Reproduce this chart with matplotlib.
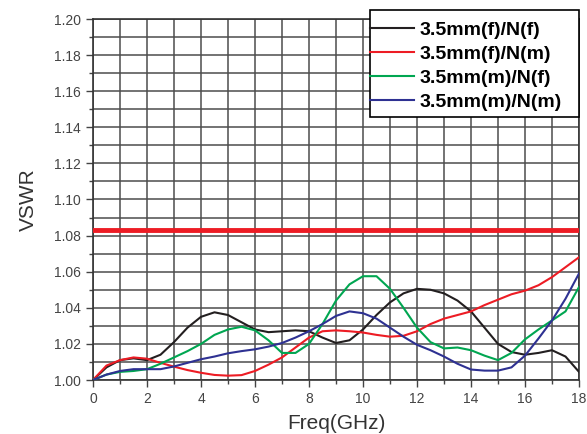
import numpy as np
import matplotlib
matplotlib.use("Agg")
import matplotlib.pyplot as plt
from matplotlib.ticker import MultipleLocator
from matplotlib.patches import Rectangle

# frequency points (GHz)
freq = np.arange(0, 18.01, 0.5)

# VSWR
ff = [1.000, 1.007, 1.011, 1.012, 1.011, 1.014, 1.021, 1.029, 1.035, 1.0375,
      1.036, 1.032, 1.028, 1.0265, 1.027, 1.0275, 1.027, 1.0235, 1.0205, 1.022,
      1.028, 1.036, 1.043, 1.048, 1.0505, 1.050, 1.048, 1.044, 1.038, 1.029,
      1.020, 1.0155, 1.014, 1.015, 1.0165, 1.013, 1.0045]
fm = [1.000, 1.008, 1.011, 1.0125, 1.0118, 1.0095, 1.0074, 1.0055, 1.004, 1.0028,
      1.0024, 1.0027, 1.005, 1.0085, 1.0125, 1.018, 1.0235, 1.027, 1.0275, 1.027,
      1.0263, 1.025, 1.024, 1.0245, 1.027, 1.031, 1.034, 1.036, 1.038, 1.0415,
      1.0445, 1.0475, 1.0495, 1.0525, 1.057, 1.0625, 1.068]
mf = [1.000, 1.003, 1.0045, 1.005, 1.006, 1.009, 1.0125, 1.016, 1.020, 1.025,
      1.028, 1.0295, 1.0275, 1.022, 1.015, 1.015, 1.020, 1.031, 1.044, 1.053,
      1.0575, 1.0575, 1.0505, 1.040, 1.029, 1.021, 1.0175, 1.018, 1.0165, 1.0135,
      1.011, 1.015, 1.0225, 1.028, 1.033, 1.038, 1.0515]
mm = [1.000, 1.003, 1.005, 1.006, 1.006, 1.006, 1.0075, 1.0095, 1.0115, 1.013,
      1.0148, 1.016, 1.017, 1.0185, 1.0205, 1.0235, 1.027, 1.031, 1.0355, 1.038,
      1.037, 1.034, 1.029, 1.024, 1.0195, 1.0165, 1.013, 1.009, 1.0058, 1.0052,
      1.0052, 1.007, 1.0135, 1.023, 1.033, 1.045, 1.059]
limit = 1.083

labels = ['3.5mm(f)/N(f)', '3.5mm(f)/N(m)', '3.5mm(m)/N(f)', '3.5mm(m)/N(m)']
colors = ['#231f20', '#ed1c24', '#00a651', '#2e3192']

plt.rcParams['font.family'] = ['Liberation Sans', 'DejaVu Sans']

W, H = 587, 434
fig = plt.figure(figsize=(W / 100, H / 100), dpi=100)
ax = fig.add_axes([93 / W, 1 - 380 / H, (579 - 93) / W, (380 - 19) / H])

for y, lab, c in zip([ff, fm, mf, mm], labels, colors):
    ax.plot(freq, y, color=c, lw=1.5, label=lab, zorder=3)

# limit line
ax.axhline(limit, color='#ed1c24', lw=3.5, zorder=3)

ax.set_xlim(0, 18)
ax.set_ylim(1.0, 1.2)
ax.xaxis.set_major_locator(MultipleLocator(2))
ax.xaxis.set_minor_locator(MultipleLocator(1))
ax.yaxis.set_major_locator(MultipleLocator(0.02))
ax.yaxis.set_minor_locator(MultipleLocator(0.01))
ax.yaxis.set_major_formatter(plt.FormatStrFormatter('%.2f'))
ax.grid(which='both', color='#4d4d4d', lw=1.1)
ax.tick_params(which='both', direction='out', colors='#444444', labelsize=10, width=1)
ax.tick_params(which='major', length=5)
ax.tick_params(which='minor', length=3)
for s in ax.spines.values():
    s.set_color('#333333')
    s.set_linewidth(1.2)

ax.set_xlabel('Freq(GHz)', fontsize=15, color='#333333', labelpad=6)
ax.set_ylabel('VSWR', fontsize=15, color='#333333', labelpad=12)

# legend box sticks out above the axes
box = Rectangle((370 / W, 1 - 117 / H), (579 - 370) / W, (117 - 10) / H,
                transform=fig.transFigure, facecolor='white',
                edgecolor='black', lw=1.2, zorder=1)
fig.patches.append(box)

leg = fig.legend(loc='upper left', bbox_to_anchor=(370 / W, 1 - 21.5 / H),
                 prop={'weight': 'bold', 'size': 14}, handlelength=2.26,
                 frameon=False, borderaxespad=0, labelspacing=0.33,
                 handletextpad=0.31, borderpad=0)
for line in leg.get_lines():
    line.set_linewidth(1.5)

fig.savefig('out.png', dpi=100)
